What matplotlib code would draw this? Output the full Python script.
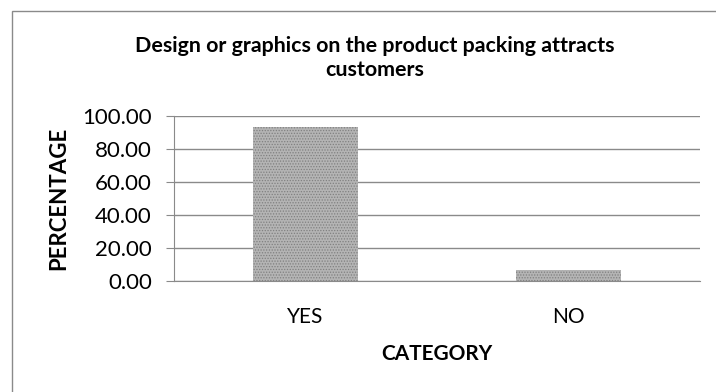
import numpy as np
import matplotlib.pyplot as plt
from matplotlib.patches import Rectangle

# survey answers, in percent
categories = ['YES', 'NO']
percentages = [93.33, 6.67]
y_ticks = [0, 20, 40, 60, 80, 100]

plt.rcParams['font.family'] = ['Lato', 'DejaVu Sans']
plt.rcParams['hatch.linewidth'] = 0.6

W, H = 716, 392
fig = plt.figure(figsize=(W / 100, H / 100), dpi=100)
ax = fig.add_axes([174 / W, 1 - 281 / H, (700 - 174) / W, (281 - 115.7) / H])

# frame around the chart area (runs off the right and bottom edges)
fig.patches.append(Rectangle((11.5 / W, -0.1), 1.2, 1.1 - 11.5 / H,
                             transform=fig.transFigure, fill=False,
                             edgecolor='#8a8a8a', linewidth=1.0))

x = np.arange(len(categories))
ax.bar(x, percentages, width=0.4, color='#b4b4b4', edgecolor='#808080',
       hatch='......', linewidth=0, zorder=2)

ax.set_xlim(-0.5, len(categories) - 0.5)
ax.set_ylim(0, 100)
ax.set_yticks(y_ticks)
ax.set_yticklabels([f'{v:.2f}' for v in y_ticks], fontsize=16)
ax.set_xticks(x)
ax.set_xticklabels(categories, fontsize=15)
ax.tick_params(axis='y', length=6, color='#8a8a8a', pad=10)
ax.tick_params(axis='x', length=0, pad=19)

ax.grid(axis='y', color='#8a8a8a', linewidth=1.0, zorder=1)
for side in ['top', 'right']:
    ax.spines[side].set_visible(False)
ax.spines['left'].set_color('#8a8a8a')
ax.spines['bottom'].set_color('#8a8a8a')

ax.set_ylabel('PERCENTAGE', fontsize=16, fontweight='bold')
ax.yaxis.set_label_coords((69 - 174) / (700 - 174), 0.5)
ax.set_xlabel('CATEGORY', fontsize=15, fontweight='bold', labelpad=12)

fig.text(375 / W, 1 - 58 / H,
         'Design or graphics on the product packing attracts\ncustomers',
         ha='center', va='center', fontsize=15.4, fontweight='bold',
         linespacing=1.3)

fig.savefig('out.png', dpi=100)
